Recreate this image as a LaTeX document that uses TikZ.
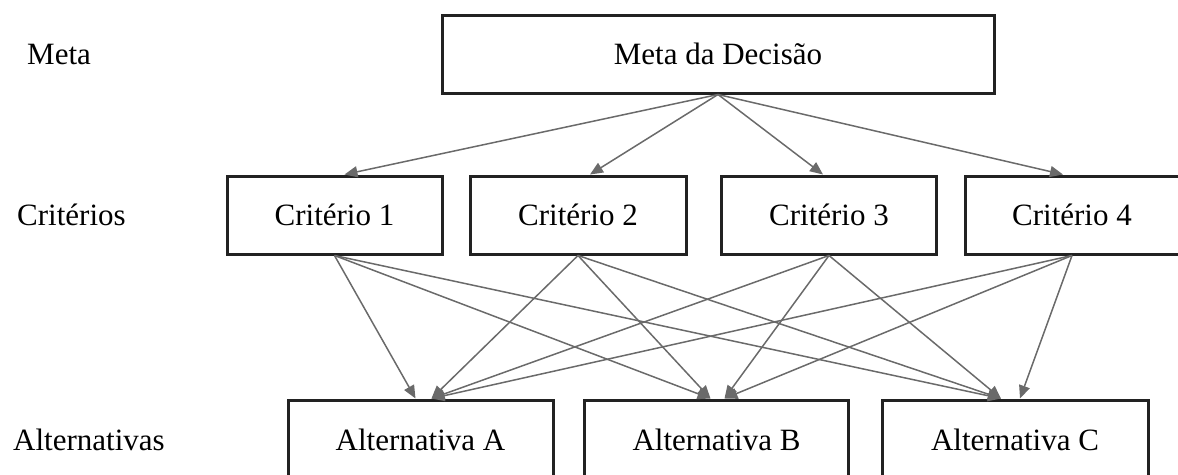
\documentclass[tikz,border=0pt]{standalone}
\usepackage{fontspec}
\setmainfont{Liberation Serif}
\usetikzlibrary{arrows.meta,calc}
\definecolor{boxline}{HTML}{222222}
\definecolor{arrowgray}{HTML}{6A6A6A}
\begin{document}
\begin{tikzpicture}[x=1pt,y=-1pt,
  box/.style={draw=boxline, line width=3pt, fill=white, inner sep=0pt,
    minimum height=78pt, font=\fontsize{31}{36}\selectfont},
  rowlabel/.style={anchor=west, inner sep=0pt, font=\fontsize{31}{36}\selectfont},
  link/.style={draw=arrowgray, line width=1.5pt,
    -{Triangle[length=13pt,width=11pt]}}]
\useasboundingbox (0,0) rectangle (1178,474);

% row labels
\node[rowlabel] (lmeta) at (27,54) {Meta};
\node[rowlabel] (lcrit) at (17,215) {Critérios};
\node[rowlabel] (lalt)  at (13,440) {Alternativas};

% goal
\node[box, minimum width=552pt] (meta) at (718,54) {Meta da Decisão};

% criteria
\node[box, minimum width=215pt] (c1) at (334.5,215) {Critério 1};
\node[box, minimum width=216pt] (c2) at (578,215) {Critério 2};
\node[box, minimum width=215pt] (c3) at (829,215) {Critério 3};
\node[box, minimum width=214pt] (c4) at (1072,215) {Critério 4};

% alternatives
\node[box, minimum width=265pt, minimum height=80pt] (altA) at (420.5,440) {Alternativa A};
\node[box, minimum width=264pt, minimum height=80pt] (altB) at (716.5,440) {Alternativa B};
\node[box, minimum width=266pt, minimum height=80pt] (altC) at (1015,440) {Alternativa C};

% goal -> criteria
\draw[link] (meta.south) -- ($(c1.north)+(10,0)$);
\draw[link] (meta.south) -- ($(c2.north)+(12,0)$);
\draw[link] (meta.south) -- ($(c3.north)+(-6,0)$);
\draw[link] (meta.south) -- ($(c4.north)+(-9,0)$);

% criteria -> alternatives
\coordinate (aL) at ($(altA.north)+(-5,0)$);
\coordinate (aR) at ($(altA.north)+(11,0)$);
\coordinate (bL) at ($(altB.north)+(-6,0)$);
\coordinate (bR) at ($(altB.north)+(8,0)$);
\coordinate (cL) at ($(altC.north)+(-14,0)$);
\coordinate (cR) at ($(altC.north)+(5,0)$);

\draw[link] (c1.south) -- (aL);
\draw[link] (c1.south) -- (bL);
\draw[link] (c1.south) -- (cL);
\draw[link] (c2.south) -- (aR);
\draw[link] (c2.south) -- (bL);
\draw[link] (c2.south) -- (cL);
\draw[link] (c3.south) -- (aR);
\draw[link] (c3.south) -- (bR);
\draw[link] (c3.south) -- (cL);
\draw[link] (c4.south) -- (aR);
\draw[link] (c4.south) -- (bR);
\draw[link] (c4.south) -- (cR);
\end{tikzpicture}
\end{document}
